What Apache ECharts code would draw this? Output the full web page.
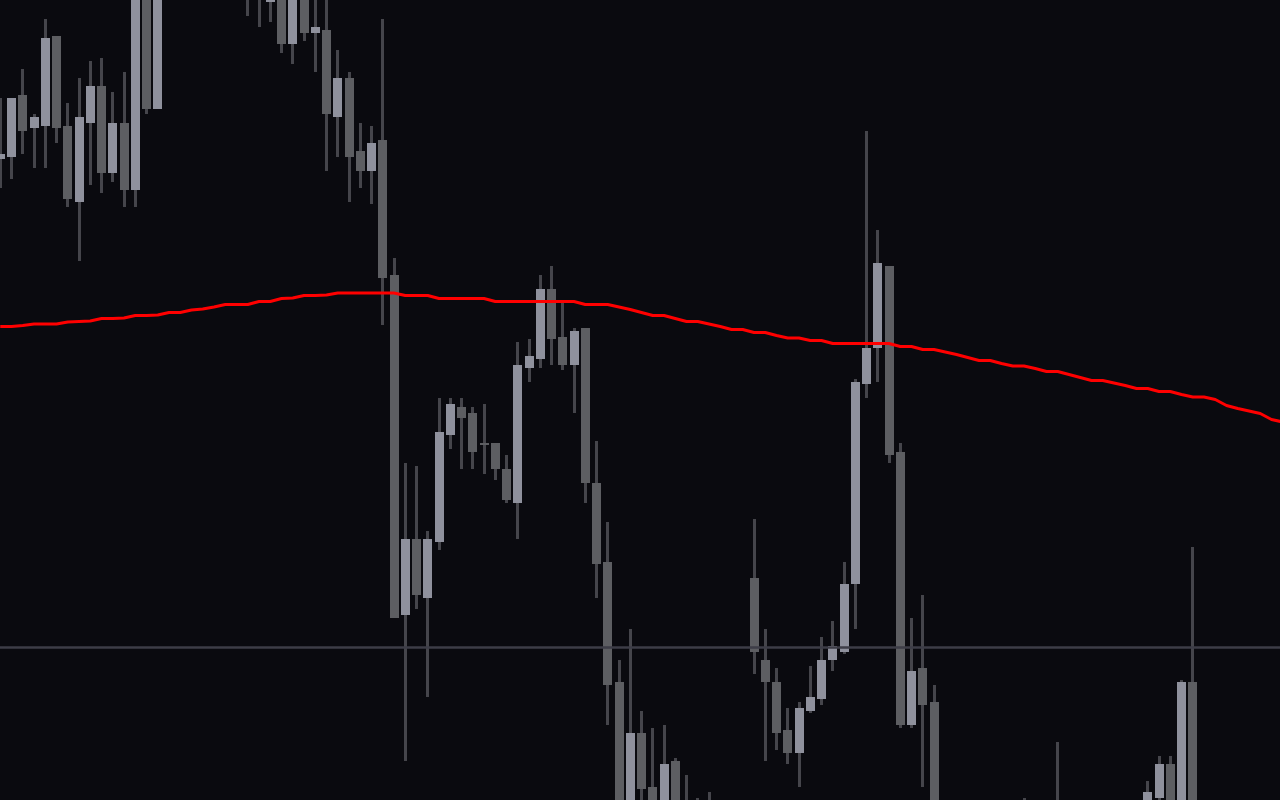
<!DOCTYPE html>
<html>
<head>
<meta charset="utf-8">
<script src="https://cdn.jsdelivr.net/npm/echarts@6/dist/echarts.min.js"></script>
<style>
html,body{margin:0;padding:0;background:#0a0a0f;}
#chart{width:1280px;height:800px;}
</style>
</head>
<body>
<div id="chart"></div>
<script>
// Candle data: open / close / low / high (price units), one entry per candle
const opens = [64.1,64.3,70.5,67.2,67.4,76.4,67.4,59.8,67.7,71.4,62.7,67.7,61.0,83.5,69.1,84.0,86.5,89.0,87.0,90.0,
  88.0,86.0,84.5,82.0,79.8,83.0,75.6,82.0,76.7,77.0,68.3,72.2,64.9,62.9,66.0,52.5,18.5,26.1,20.2,25.8,
  36.5,39.3,38.7,35.7,35.7,33.1,29.7,43.2,44.1,51.1,46.3,43.5,47.2,31.7,23.8,11.8,-2.5,6.7,1.3,-1.5,
  3.9,-0.5,-3.5,-1.5,-2.5,-4.0,-1.5,22.2,14.0,11.8,7.0,4.7,8.9,10.1,14.0,14.8,21.6,41.6,45.2,53.4,
  34.8,7.5,13.2,9.8,-2.0,-4.5,-3.0,-5.5,-4.0,-6.0,-3.5,-2.0,-3.5,-5.0,-2.5,-1.0,-3.0,-4.5,-2.0,-3.5,
  -1.5,-2.5,-1.5,0.2,3.6,-1.0,11.8,-2.0,-4.0,-2.5,-5.0,-3.5,-6.0,-4.5,-7.0];
const closes = [64.6,70.2,66.9,68.3,76.2,67.2,60.1,68.3,71.4,62.7,67.7,61.0,83.0,69.1,84.0,86.5,89.0,87.0,90.0,88.0,
  86.0,84.5,82.0,84.0,83.0,75.6,82.0,76.7,77.3,68.6,72.2,64.3,62.9,65.7,52.2,18.2,26.1,20.5,26.1,36.8,
  39.6,38.2,34.8,35.5,33.1,30.0,43.5,44.4,51.1,46.1,43.5,46.9,31.7,23.6,11.5,-3.0,6.7,1.1,-2.0,3.6,
  -1.0,-3.0,-1.0,-2.5,-4.0,-1.5,-0.5,14.8,11.8,6.7,4.7,9.2,10.3,14.0,15.4,21.6,41.8,45.2,53.7,34.5,
  7.5,12.9,9.5,-2.0,-4.5,-3.0,-5.5,-4.0,-6.0,-3.5,-2.0,-3.5,-5.0,-2.5,-1.0,-3.0,-4.5,-2.0,-3.5,-1.5,
  -2.5,-0.5,0.8,3.6,-1.0,11.8,-2.0,-4.0,-2.5,-5.0,-3.5,-6.0,-4.5,-7.0,-5.5];
const lows = [61.2,62.1,64.6,63.2,63.2,65.7,59.3,53.9,61.5,60.7,61.8,59.3,59.3,68.6,69.1,82.0,85.0,85.5,85.0,86.0,
  84.0,82.5,78.4,77.3,77.8,74.7,73.6,75.9,72.8,62.9,64.3,59.8,61.2,59.6,47.5,18.2,3.9,19.1,10.3,25.0,
  35.1,33.1,33.1,32.6,32.0,29.7,26.1,41.8,43.2,43.5,43.0,38.7,29.7,20.2,7.5,-4.5,-4.0,-3.0,-4.0,-3.0,
  -2.5,-4.5,-5.0,-4.0,-5.5,-5.0,-3.0,12.6,3.9,5.0,3.6,1.3,8.7,9.5,12.9,14.6,17.1,40.2,41.8,33.7,
  7.2,7.2,1.3,-4.0,-6.0,-6.5,-7.0,-7.5,-8.0,-7.0,-5.0,-6.0,-7.0,-6.5,-4.0,-5.0,-6.5,-6.0,-5.0,-4.5,
  -4.5,-4.0,-3.0,-1.5,-2.5,-2.5,-3.5,-5.5,-6.0,-6.5,-7.0,-7.5,-8.0,-8.5,-9.0];
const highs = [70.2,70.2,73.1,68.6,78.1,76.4,69.7,72.2,73.9,74.2,70.8,72.8,85.0,85.0,86.0,88.0,90.5,91.0,92.0,91.5,
  89.5,87.5,86.0,85.5,84.5,84.0,83.0,83.5,81.0,81.5,75.0,72.8,67.7,67.4,78.1,54.2,33.7,33.4,26.9,40.2,
  40.2,40.2,39.3,39.6,35.7,34.5,45.8,46.1,52.5,53.4,49.7,47.2,47.2,35.9,27.8,14.0,17.1,8.9,7.2,7.5,
  4.2,2.5,0.2,0.8,-0.5,-0.3,-0.2,28.1,17.1,13.2,9.2,9.8,13.4,16.3,17.9,23.8,42.1,66.9,57.0,53.4,
  35.7,18.2,20.5,11.5,-0.5,-1.0,-1.5,-2.0,-1.5,-1.0,-0.5,0.2,-1.0,-0.8,5.8,-0.3,-1.0,-0.8,-0.5,-0.5,
  -0.2,-0.1,1.9,4.4,4.4,12.0,25.3,-0.5,-1.0,-1.0,-2.0,-2.0,-3.0,-3.0,-4.0];
// Moving average (red line)
const maValues = [47.35,47.35,47.45,47.6,47.6,47.6,47.8,47.85,47.9,48.15,48.15,48.2,48.45,48.45,48.5,48.75,48.75,49.0,49.1,49.3,
  49.55,49.55,49.55,49.85,49.85,50.15,50.2,50.45,50.45,50.5,50.7,50.7,50.7,50.7,50.7,50.7,50.45,50.45,50.45,50.15,
  50.15,50.15,50.15,50.15,49.85,49.85,49.85,49.85,49.85,49.85,49.85,49.85,49.55,49.55,49.55,49.3,49.05,48.75,48.45,48.45,
  48.15,47.85,47.85,47.6,47.35,47.05,47.05,46.75,46.75,46.45,46.2,46.2,45.95,45.95,45.65,45.65,45.65,45.65,45.65,45.65,
  45.35,45.35,45.05,45.05,44.8,44.55,44.25,43.95,43.95,43.65,43.4,43.4,43.15,42.85,42.85,42.55,42.25,41.95,41.95,41.7,
  41.45,41.15,41.15,40.85,40.85,40.55,40.3,40.3,40.05,39.45,39.15,38.9,38.65,38.05,37.8];
// Horizontal reference level
const levelValue = 15.25;
const categories = opens.map((_, i) => 'C' + (i + 1));

const UP = '#8f919d', DOWN = '#5d5e62', WICK = '#45454b';

const candleData = opens.map((o, i) => [i, o, closes[i], lows[i], highs[i]]);

function renderCandle(params, api) {
  const idx = api.value(0);
  const o = api.value(1), c = api.value(2), l = api.value(3), h = api.value(4);
  const pO = api.coord([idx, o]);
  const pC = api.coord([idx, c]);
  const pL = api.coord([idx, l]);
  const pH = api.coord([idx, h]);
  const band = api.size([1, 0])[0];
  const bw = Math.round(band * 0.8);
  const cx = pO[0];
  const up = c > o;
  const top = Math.min(pO[1], pC[1]);
  const bh = Math.max(1.5, Math.abs(pO[1] - pC[1]));
  return {
    type: 'group',
    children: [
      { type: 'rect', shape: { x: Math.round(cx - 1.5), y: pH[1], width: 3, height: pL[1] - pH[1] },
        style: { fill: WICK } },
      { type: 'rect', shape: { x: Math.round(cx - bw / 2), y: top, width: bw, height: bh },
        style: { fill: up ? UP : DOWN } }
    ]
  };
}

const chart = echarts.init(document.getElementById('chart'), null, { renderer: 'canvas' });
chart.setOption({
  animation: false,
  backgroundColor: '#0a0a0f',
  grid: { left: -5.375, top: 0, width: 1293.75, height: 800, containLabel: false, outerBoundsMode: 'none' },
  xAxis: { type: 'category', data: categories, boundaryGap: true, show: false },
  yAxis: { type: 'value', min: 0, max: 80, show: false, splitLine: { show: false } },
  series: [
    {
      type: 'line', data: [], z: 1, silent: true,
      markLine: {
        silent: true, symbol: 'none', animation: false,
        label: { show: false },
        lineStyle: { color: '#3d3d47', width: 2.5, type: 'solid' },
        data: [{ yAxis: levelValue }]
      }
    },
    {
      type: 'custom', z: 2, renderItem: renderCandle, data: candleData,
      encode: { x: 0, y: [1, 2, 3, 4] }, silent: true
    },
    {
      type: 'line', z: 3, data: maValues, showSymbol: false, symbol: 'none', smooth: false, silent: true,
      lineStyle: { color: '#ff0000', width: 3 }
    }
  ]
});
</script>
</body>
</html>
